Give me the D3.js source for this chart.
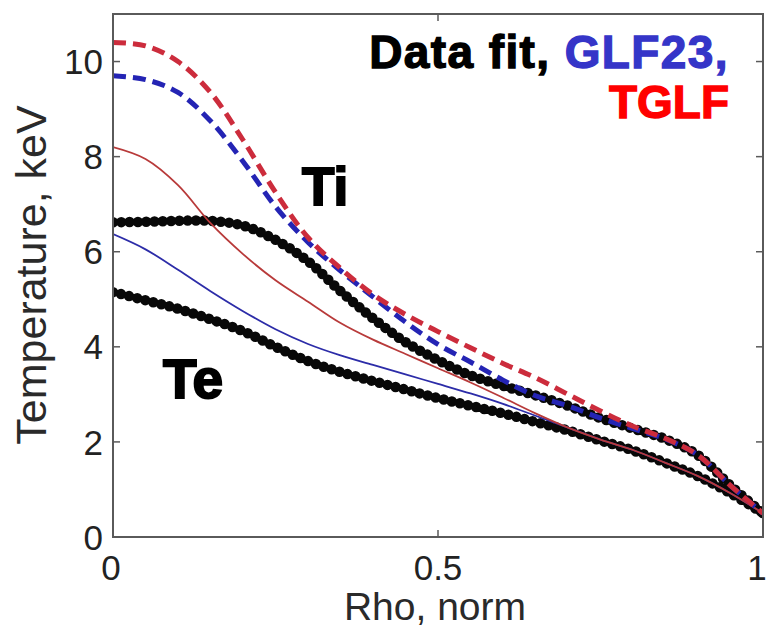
<!DOCTYPE html>
<html>
<head>
<meta charset="utf-8">
<script src="https://cdn.jsdelivr.net/npm/d3@7"></script>
<style>
  html, body { margin: 0; padding: 0; background: #fff; }
  svg { display: block; }
</style>
</head>
<body>
<svg id="chart" width="767" height="629"></svg>
<script>
// ---- data ----
const rho = [0, 0.05, 0.1, 0.15, 0.2, 0.25, 0.3, 0.35, 0.4, 0.45, 0.5,
             0.55, 0.6, 0.65, 0.7, 0.75, 0.8, 0.85, 0.9, 0.95, 1.0];

const tiDataFit = [6.62, 6.63, 6.65, 6.65, 6.55, 6.25, 5.8, 5.17, 4.6, 4.1, 3.72,
                   3.4, 3.18, 2.98, 2.76, 2.5, 2.28, 2.06, 1.72, 1.08, 0.5];
const teDataFit = [5.15, 4.98, 4.8, 4.58, 4.33, 4.0, 3.7, 3.47, 3.28, 3.1, 2.92,
                   2.76, 2.6, 2.42, 2.24, 2.03, 1.82, 1.56, 1.28, 0.92, 0.5];
const tiTGLF    = [10.4, 10.33, 10.0, 9.35, 8.35, 7.25, 6.3, 5.65, 5.1, 4.68, 4.32,
                   3.98, 3.65, 3.35, 3.0, 2.65, 2.33, 2.07, 1.72, 1.08, 0.5];
const tiGLF23   = [9.7, 9.62, 9.35, 8.75, 7.9, 6.95, 6.2, 5.6, 5.05, 4.52, 4.05,
                   3.68, 3.3, 2.97, 2.76, 2.5, 2.28, 2.06, 1.72, 1.08, 0.5];
const teTGLF    = [8.2, 7.95, 7.4, 6.6, 5.95, 5.4, 4.95, 4.5, 4.15, 3.85, 3.55,
                   3.25, 2.93, 2.6, 2.3, 2.05, 1.83, 1.56, 1.28, 0.92, 0.5];
const teGLF23   = [6.37, 6.05, 5.62, 5.17, 4.75, 4.37, 4.06, 3.82, 3.62, 3.42, 3.22,
                   3.02, 2.8, 2.55, 2.3, 2.05, 1.83, 1.56, 1.28, 0.92, 0.5];

const xTicks = [0, 0.5, 1];
const xTickLabels = ["0", "0.5", "1"];
const yTicks = [0, 2, 4, 6, 8, 10];
const yTickLabels = ["0", "2", "4", "6", "8", "10"];

// ---- layout ----
const svg = d3.select("#chart");
const pL = 113, pR = 763, pT = 14, pB = 537;
const x = d3.scaleLinear().domain([0, 1]).range([pL, pR]);
const y = d3.scaleLinear().domain([0, 11]).range([pB, pT]);

svg.append("defs").append("clipPath").attr("id", "plotclip")
  .append("rect").attr("x", pL).attr("y", pT)
  .attr("width", pR - pL).attr("height", pB - pT);

const line = vals => d3.line()
  .x((d, i) => x(rho[i]))
  .y(d => y(d))
  .curve(d3.curveCatmullRom.alpha(0.5))(vals);

const plot = svg.append("g").attr("clip-path", "url(#plotclip)");

// data fits: black dotted markers
[tiDataFit, teDataFit].forEach(vals => {
  plot.append("path")
    .attr("d", line(vals))
    .attr("fill", "none")
    .attr("stroke", "#080808")
    .attr("stroke-width", 10.5)
    .attr("stroke-linecap", "round")
    .attr("stroke-dasharray", "0 8.3");
});

// model curves
const series = [
  { vals: teGLF23, color: "#2c2ca8", width: 1.8, dash: null },
  { vals: teTGLF,  color: "#b83a3a", width: 1.8, dash: null },
  { vals: tiGLF23, color: "#2424b4", width: 5,   dash: "13 7" },
  { vals: tiTGLF,  color: "#cc2c3c", width: 5,   dash: "13 7" }
];
series.forEach(s => {
  const p = plot.append("path")
    .attr("d", line(s.vals))
    .attr("fill", "none")
    .attr("stroke", s.color)
    .attr("stroke-width", s.width);
  if (s.dash) p.attr("stroke-dasharray", s.dash);
});

// ---- axes (MATLAB style box with inward ticks) ----
const axisColor = "#5a5a5a";
const tickLen = 7;
const axes = svg.append("g");

axes.append("rect")
  .attr("x", pL).attr("y", pT)
  .attr("width", pR - pL).attr("height", pB - pT)
  .attr("fill", "none").attr("stroke", axisColor).attr("stroke-width", 2);

yTicks.forEach(t => {
  axes.append("line").attr("x1", pL).attr("x2", pL + tickLen)
    .attr("y1", y(t)).attr("y2", y(t))
    .attr("stroke", axisColor).attr("stroke-width", 1.5);
  axes.append("line").attr("x1", pR).attr("x2", pR - tickLen)
    .attr("y1", y(t)).attr("y2", y(t))
    .attr("stroke", axisColor).attr("stroke-width", 1.5);
});
xTicks.forEach(t => {
  axes.append("line").attr("x1", x(t)).attr("x2", x(t))
    .attr("y1", pB).attr("y2", pB - tickLen)
    .attr("stroke", axisColor).attr("stroke-width", 1.5);
  axes.append("line").attr("x1", x(t)).attr("x2", x(t))
    .attr("y1", pT).attr("y2", pT + tickLen)
    .attr("stroke", axisColor).attr("stroke-width", 1.5);
});

const tickFont = "'Liberation Sans', Arial, sans-serif";
yTicks.forEach((t, i) => {
  axes.append("text")
    .attr("x", pL - 10).attr("y", y(t))
    .attr("dy", "0.36em")
    .attr("text-anchor", "end")
    .attr("font-family", tickFont).attr("font-size", 35)
    .attr("fill", "#222")
    .text(yTickLabels[i]);
});
xTicks.forEach((t, i) => {
  const shift = i === 0 ? -2 : (i === xTicks.length - 1 ? -6 : 0);
  axes.append("text")
    .attr("x", x(t) + shift).attr("y", 580)
    .attr("text-anchor", "middle")
    .attr("font-family", tickFont).attr("font-size", 35)
    .attr("fill", "#222")
    .text(xTickLabels[i]);
});

// axis titles
svg.append("text")
  .attr("transform", "translate(46,275) rotate(-90)")
  .attr("text-anchor", "middle")
  .attr("font-family", tickFont).attr("font-size", 43)
  .attr("fill", "#2a2a2a")
  .text("Temperature, keV");

svg.append("text")
  .attr("x", (pL + pR) / 2 - 3).attr("y", 620)
  .attr("text-anchor", "middle")
  .attr("font-family", tickFont).attr("font-size", 39)
  .attr("fill", "#2a2a2a")
  .text("Rho, norm");

// ---- annotations ----
const boldFont = "'Liberation Sans', Arial, sans-serif";
const legend1 = svg.append("text")
  .attr("x", 729).attr("y", 68)
  .attr("text-anchor", "end")
  .attr("font-family", boldFont).attr("font-weight", "bold")
  .attr("font-size", 46).attr("letter-spacing", 1.4)
  .attr("stroke-width", 1.3);
legend1.append("tspan").attr("fill", "#000").attr("stroke", "#000").text("Data fit, ");
legend1.append("tspan").attr("fill", "#3535c8").attr("stroke", "#3535c8").text("GLF23,");

svg.append("text")
  .attr("x", 729).attr("y", 118)
  .attr("text-anchor", "end")
  .attr("font-family", boldFont).attr("font-weight", "bold")
  .attr("font-size", 46)
  .attr("fill", "#ff0000").attr("stroke", "#ff0000").attr("stroke-width", 1.3)
  .text("TGLF");

svg.append("text")
  .attr("x", 302).attr("y", 205)
  .attr("font-family", boldFont).attr("font-weight", "bold")
  .attr("font-size", 53)
  .attr("fill", "#000").attr("stroke", "#000").attr("stroke-width", 2)
  .text("Ti");

svg.append("text")
  .attr("x", 163).attr("y", 398)
  .attr("font-family", boldFont).attr("font-weight", "bold")
  .attr("font-size", 55)
  .attr("fill", "#000").attr("stroke", "#000").attr("stroke-width", 2)
  .text("Te");
</script>
</body>
</html>
